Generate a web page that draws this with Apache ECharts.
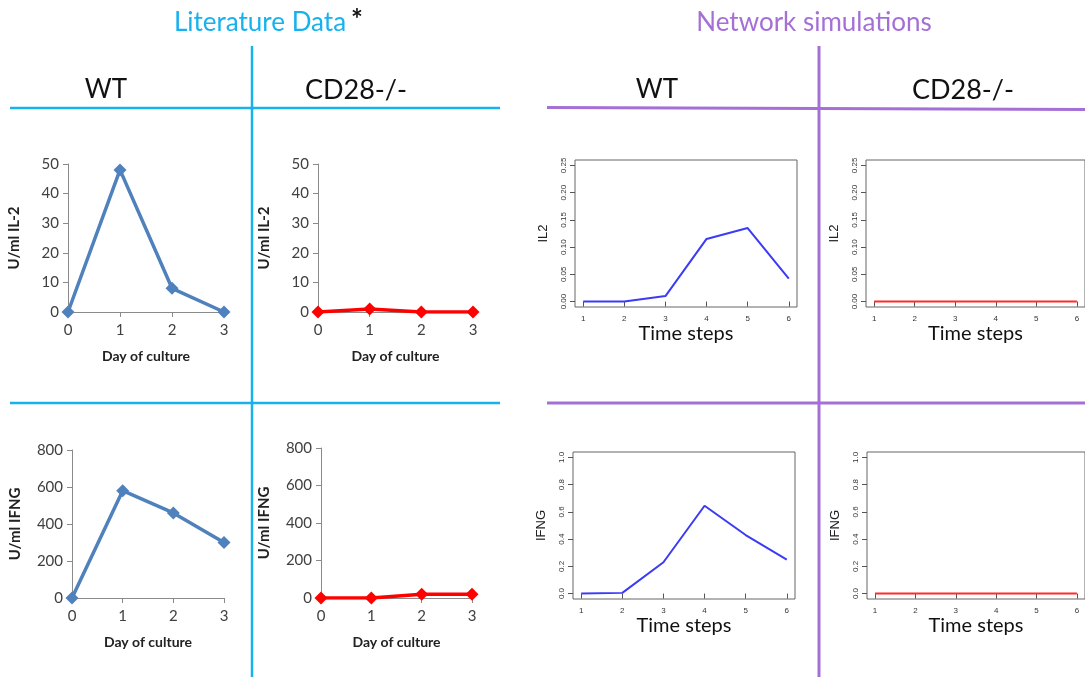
<!DOCTYPE html>
<html>
<head>
<meta charset="utf-8">
<script src="https://cdn.jsdelivr.net/npm/echarts@6/dist/echarts.min.js"></script>
<style>
  html, body { margin: 0; padding: 0; background: #fff; }
  #main { width: 1085px; height: 677px; }
</style>
</head>
<body>
<div id="main"></div>
<script>
// literature data (Excel style panels)
const days = ["0", "1", "2", "3"];
const litIL2WT = [0, 48, 8, 0];
const litIL2KO = [0, 1, 0, 0];
const litIFNGWT = [0, 580, 460, 300];
const litIFNGKO = [0, 0, 20, 20];

// network simulations (R style panels)
const steps = [1, 2, 3, 4, 5, 6];
const simIL2WT = [0, 0, 0.01, 0.115, 0.135, 0.042];
const simIL2KO = [0, 0, 0, 0, 0, 0];
const simIFNGWT = [0, 0.005, 0.23, 0.645, 0.43, 0.25];
const simIFNGKO = [0, 0, 0, 0, 0, 0];

const il2Ticks = [0, 0.05, 0.1, 0.15, 0.2, 0.25];
const ifngTicks = [0, 0.2, 0.4, 0.6, 0.8, 1.0];

const BLUE = "#17b2ee";
const PURPLE = "#a570d6";
const XL = "Lato, 'Open Sans', sans-serif";
const RF = "'Liberation Sans', Arial, sans-serif";

const grids = [];
const xAxes = [];
const yAxes = [];
const series = [];

// excel-looking panel
function litPanel(box, yName, yMax, yInt, data, color, nameGapY) {
  const i = grids.length;
  grids.push({ left: box[0], top: box[1], width: box[2], height: box[3] });
  xAxes.push({
    gridIndex: i, type: "category", data: days, boundaryGap: false,
    name: "Day of culture", nameLocation: "middle", nameGap: 37,
    nameTextStyle: { fontFamily: XL, fontWeight: "bold", fontSize: 14, color: "#222" },
    axisLine: { lineStyle: { color: "#8a8a8a", width: 1 } },
    axisTick: { show: true, length: 5, alignWithLabel: true, lineStyle: { color: "#8a8a8a" } },
    axisLabel: { fontFamily: XL, fontSize: 15, color: "#404040", margin: 11 },
    splitLine: { show: false }
  });
  yAxes.push({
    gridIndex: i, type: "value", min: 0, max: yMax, interval: yInt,
    name: yName, nameLocation: "middle", nameGap: nameGapY, nameRotate: 90,
    nameTextStyle: { fontFamily: XL, fontWeight: "bold", fontSize: 15, color: "#222" },
    axisLine: { show: true, lineStyle: { color: "#8a8a8a", width: 1 } },
    axisTick: { show: true, length: 5, lineStyle: { color: "#8a8a8a" } },
    axisLabel: { fontFamily: XL, fontSize: 15, color: "#404040", margin: 9 },
    splitLine: { show: false }
  });
  series.push({
    type: "line", xAxisIndex: i, yAxisIndex: i, data: data,
    symbol: "diamond", symbolSize: 13, showSymbol: true,
    lineStyle: { color: color, width: 3.5 },
    itemStyle: { color: color },
    animation: false, z: 5
  });
}

// R-plot-looking panel
function simPanel(box, yName, yMin, yMax, ticks, digits, data, color) {
  const i = grids.length;
  grids.push({
    left: box[0], top: box[1], width: box[2], height: box[3],
    show: true, borderColor: "#666", borderWidth: 1, backgroundColor: "transparent"
  });
  xAxes.push({
    gridIndex: i, type: "value", min: 0.8, max: 6.2,
    name: "Time steps", nameLocation: "middle", nameGap: 14,
    nameTextStyle: { fontFamily: XL, fontSize: 20, color: "#111" },
    axisLine: { show: false },
    axisTick: { show: true, length: 5, customValues: steps, lineStyle: { color: "#555" } },
    axisLabel: { fontFamily: RF, fontSize: 8, color: "#333", margin: 8, customValues: steps },
    splitLine: { show: false }
  });
  yAxes.push({
    gridIndex: i, type: "value", min: yMin, max: yMax,
    name: yName, nameLocation: "middle", nameGap: 25, nameRotate: 90,
    nameTextStyle: { fontFamily: RF, fontSize: 13, color: "#222" },
    axisLine: { show: false },
    axisTick: { show: true, length: 5, customValues: ticks, lineStyle: { color: "#555" } },
    axisLabel: {
      fontFamily: RF, fontSize: 8, color: "#333", margin: 7, rotate: 90,
      customValues: ticks,
      formatter: function (v) { return Number(v).toFixed(digits); }
    },
    splitLine: { show: false }
  });
  series.push({
    type: "line", xAxisIndex: i, yAxisIndex: i,
    data: steps.map(function (s, k) { return [s, data[k]]; }),
    symbol: "none", lineStyle: { color: color, width: 2 },
    animation: false, z: 5
  });
}

litPanel([68, 164, 156, 148], "U/ml IL-2", 50, 10, litIL2WT, "#4f81bd", 46);
litPanel([318, 164, 155, 148], "U/ml IL-2", 50, 10, litIL2KO, "#ff0000", 46);
litPanel([72, 450, 152, 148], "U/ml IFNG", 800, 200, litIFNGWT, "#4f81bd", 49);
litPanel([321, 448, 151, 150], "U/ml IFNG", 800, 200, litIFNGKO, "#ff0000", 49);

simPanel([575, 160, 222, 147], "IL2", -0.01, 0.26, il2Ticks, 2, simIL2WT, "#3b3bf5");
simPanel([866, 160, 222, 147], "IL2", -0.01, 0.26, il2Ticks, 2, simIL2KO, "#ff2a2a");
simPanel([573, 452, 222, 147], "IFNG", -0.04, 1.04, ifngTicks, 1, simIFNGWT, "#3b3bf5");
simPanel([867, 452, 222, 147], "IFNG", -0.04, 1.04, ifngTicks, 1, simIFNGKO, "#ff2a2a");

function hline(x1, y1, x2, y2, color, w) {
  return { type: "line", shape: { x1: x1, y1: y1, x2: x2, y2: y2 }, style: { stroke: color, lineWidth: w }, silent: true };
}
function label(x, y, txt, size, color, weight) {
  return {
    type: "text", x: x, y: y,
    style: {
      text: txt, fontFamily: XL, fontSize: size, fontWeight: weight || "normal",
      fill: color, align: "center", verticalAlign: "middle"
    },
    silent: true
  };
}

const graphics = [
  hline(10, 108, 500, 108, BLUE, 2.5),
  hline(10, 403, 500, 403, BLUE, 2.5),
  hline(252, 46, 252, 677, BLUE, 2.5),
  hline(547, 107.5, 1085, 109.5, PURPLE, 3),
  hline(547, 403, 1085, 403, PURPLE, 3),
  hline(819, 46, 819, 677, PURPLE, 3),
  label(260, 23, "Literature Data", 26, BLUE),
  label(357, 20, "*", 28, "#111", "bold"),
  label(814, 23, "Network simulations", 26, PURPLE),
  label(106, 90, "WT", 26, "#111"),
  label(356, 90, "CD28-/-", 27, "#111"),
  label(657, 90, "WT", 26, "#111"),
  label(963, 90, "CD28-/-", 27, "#111")
];

const myChart = echarts.init(document.getElementById("main"));
myChart.setOption({
  backgroundColor: "#fff",
  animation: false,
  grid: grids,
  xAxis: xAxes,
  yAxis: yAxes,
  series: series,
  graphic: graphics
});
</script>
</body>
</html>
